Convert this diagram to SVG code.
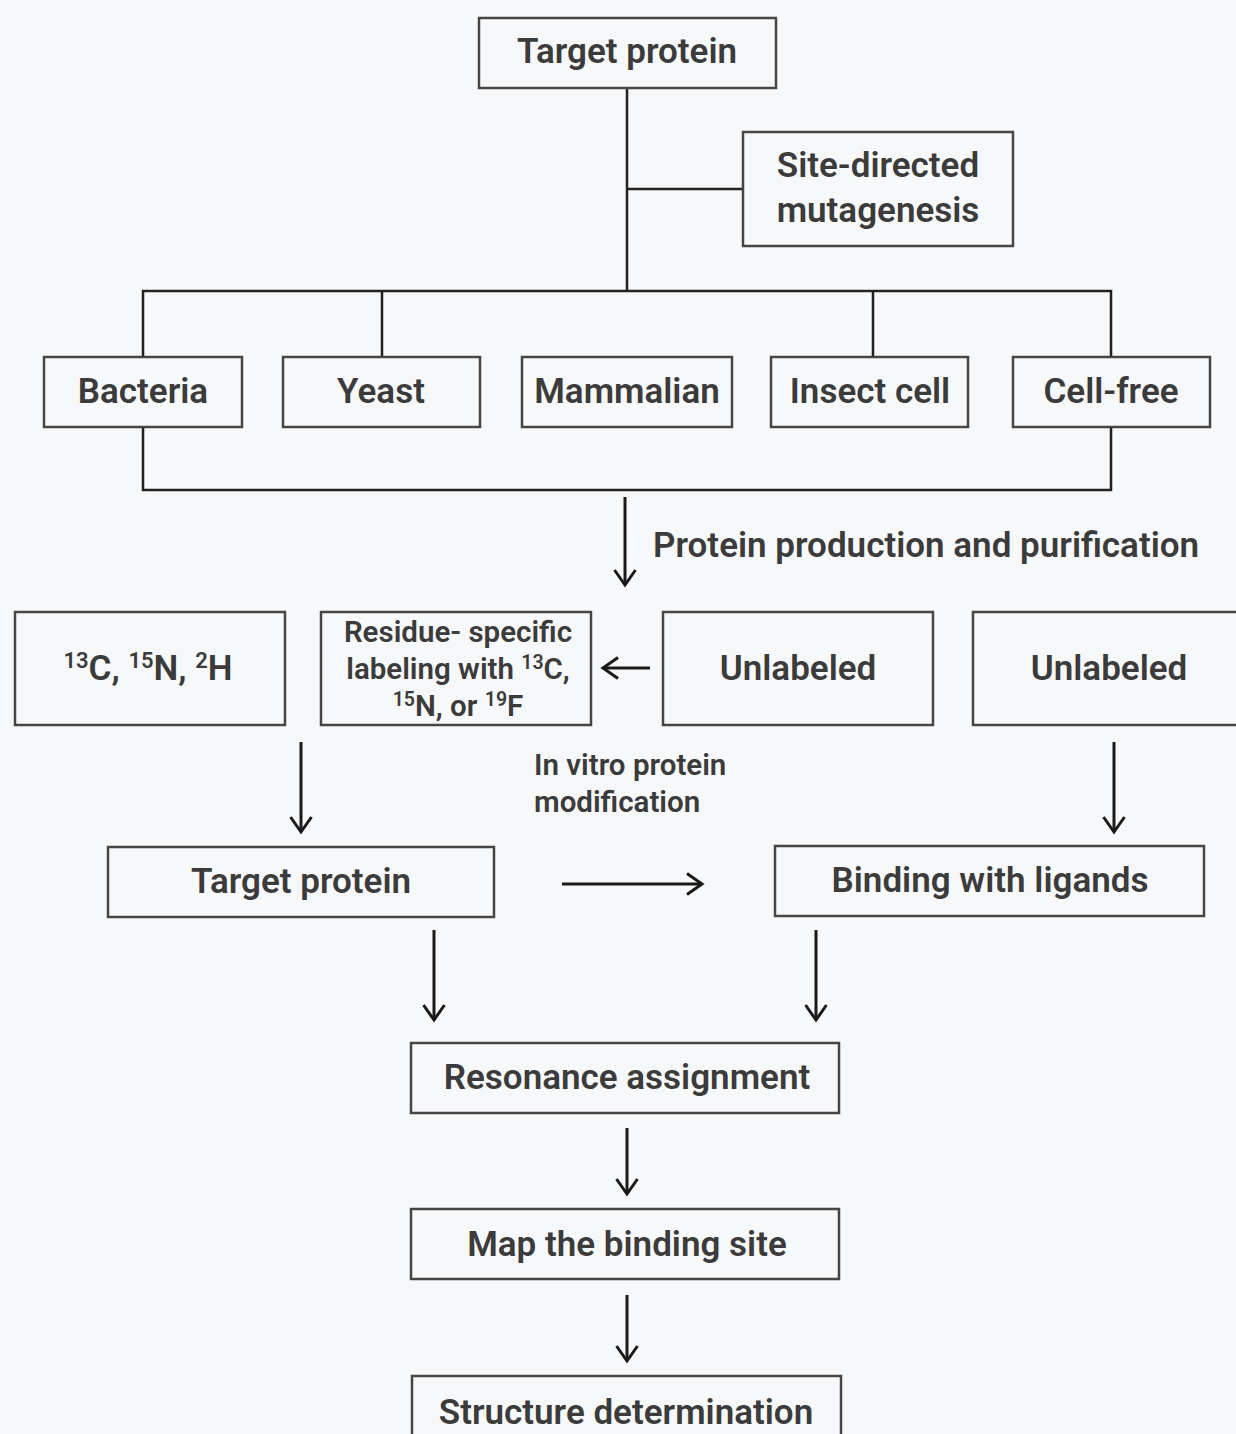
<svg xmlns="http://www.w3.org/2000/svg" width="1236" height="1434" viewBox="0 0 1236 1434">
<style>
.box{fill:none;stroke:#454545;stroke-width:2.5}
.t{font-family:Roboto,"Liberation Sans",sans-serif;font-weight:600;fill:#3b3b3b;text-anchor:middle}
.l{font-size:35px}
.s{font-size:29.5px}
.line{fill:none;stroke:#222;stroke-width:2.5}
.arr{fill:none;stroke:#1a1a1a;stroke-width:3;marker-end:url(#ah)}
</style>
<defs>
<marker id="ah" markerUnits="userSpaceOnUse" markerWidth="24" markerHeight="24" viewBox="0 0 24 24" refX="20" refY="12" orient="auto">
<path d="M5,1.5 L20,12 L5,22.5" fill="none" stroke="#1a1a1a" stroke-width="3"/>
</marker>
</defs>
<rect width="1236" height="1434" fill="#f7f8fa"/>
<g id="connectors">
<path class="line" d="M627,88 V291 M627,189 H743 M143,357 V291 H1111 V357 M382,291 V357 M873,291 V357 M143,427 V490 H1111 V427"/>
<path class="arr" d="M625,497 V585"/>
<path class="arr" d="M650,668 H603"/>
<path class="arr" d="M301,742 V832"/>
<path class="arr" d="M1114,742 V832"/>
<path class="arr" d="M562,884 H702"/>
<path class="arr" d="M434,930 V1020"/>
<path class="arr" d="M816,930 V1020"/>
<path class="arr" d="M627,1128 V1194"/>
<path class="arr" d="M627,1295 V1361"/>
</g>
<g id="n-target"><rect class="box" x="479" y="18" width="297" height="70"/><text class="t l" x="627" y="63">Target protein</text></g>
<g id="n-sdm"><rect class="box" x="743" y="132" width="270" height="114"/><text class="t l" x="878" y="177">Site-directed</text><text class="t l" x="878" y="222">mutagenesis</text></g>
<g id="n-bacteria"><rect class="box" x="44" y="357" width="198" height="70"/><text class="t l" x="143" y="403">Bacteria</text></g>
<g id="n-yeast"><rect class="box" x="283" y="357" width="197" height="70"/><text class="t l" x="381" y="403">Yeast</text></g>
<g id="n-mammalian"><rect class="box" x="522" y="357" width="210" height="70"/><text class="t l" x="627" y="403">Mammalian</text></g>
<g id="n-insect"><rect class="box" x="771" y="357" width="197" height="70"/><text class="t l" x="870" y="403">Insect cell</text></g>
<g id="n-cellfree"><rect class="box" x="1013" y="357" width="197" height="70"/><text class="t l" x="1111" y="403">Cell-free</text></g>
<g id="lbl-production"><text class="t l" x="653" y="557" style="text-anchor:start">Protein production and purification</text></g>
<g id="n-isotopes"><rect class="box" x="15" y="612" width="270" height="113"/><text class="t l" x="148" y="680"><tspan font-size="22" dy="-12">13</tspan><tspan dy="12">C, </tspan><tspan font-size="22" dy="-12">15</tspan><tspan dy="12">N, </tspan><tspan font-size="22" dy="-12">2</tspan><tspan dy="12">H</tspan></text></g>
<g id="n-residue"><rect class="box" x="321" y="612" width="270" height="113"/>
<text class="t s" x="458" y="642">Residue- specific</text>
<text class="t s" x="458" y="679">labeling with <tspan font-size="19.5" dy="-10">13</tspan><tspan dy="10">C,</tspan></text>
<text class="t s" x="458" y="716"><tspan font-size="19.5" dy="-10">15</tspan><tspan dy="10">N, or </tspan><tspan font-size="19.5" dy="-10">19</tspan><tspan dy="10">F</tspan></text></g>
<g id="n-unlabeled1"><rect class="box" x="663" y="612" width="270" height="113"/><text class="t l" x="798" y="680">Unlabeled</text></g>
<g id="n-unlabeled2"><rect class="box" x="973" y="612" width="270" height="113"/><text class="t l" x="1109" y="680">Unlabeled</text></g>
<g id="lbl-invitro"><text class="t s" x="534" y="775" style="text-anchor:start">In vitro protein</text><text class="t s" x="534" y="812" style="text-anchor:start">modification</text></g>
<g id="n-target2"><rect class="box" x="108" y="847" width="386" height="70"/><text class="t l" x="301" y="893">Target protein</text></g>
<g id="n-binding"><rect class="box" x="775" y="846" width="429" height="70"/><text class="t l" x="990" y="892">Binding with ligands</text></g>
<g id="n-resonance"><rect class="box" x="411" y="1043" width="428" height="70"/><text class="t l" x="627" y="1089">Resonance assignment</text></g>
<g id="n-map"><rect class="box" x="411" y="1209" width="428" height="70"/><text class="t l" x="627" y="1256">Map the binding site</text></g>
<g id="n-structure"><rect class="box" x="412" y="1376" width="429" height="70"/><text class="t l" x="626" y="1424">Structure determination</text></g>
</svg>
